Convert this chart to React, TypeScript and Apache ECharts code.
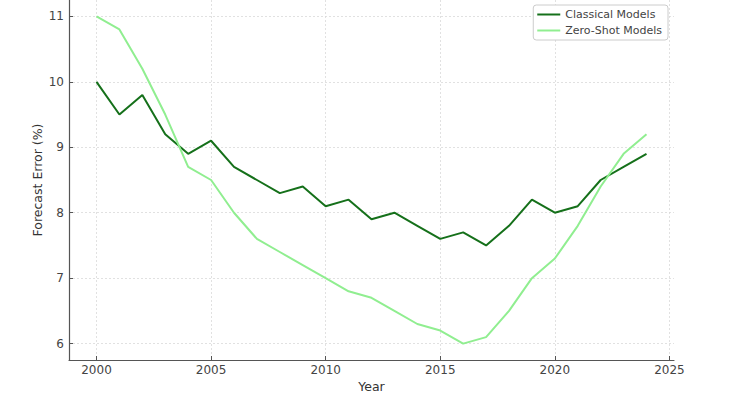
import React, { useEffect, useRef } from "react";
import * as echarts from "echarts";

const years = [2000, 2001, 2002, 2003, 2004, 2005, 2006, 2007, 2008, 2009, 2010, 2011, 2012, 2013, 2014, 2015, 2016, 2017, 2018, 2019, 2020, 2021, 2022, 2023, 2024];
const classical = [10.0, 9.5, 9.8, 9.2, 8.9, 9.1, 8.7, 8.5, 8.3, 8.4, 8.1, 8.2, 7.9, 8.0, 7.8, 7.6, 7.7, 7.5, 7.8, 8.2, 8.0, 8.1, 8.5, 8.7, 8.9];
const zeroShot = [11.0, 10.8, 10.2, 9.5, 8.7, 8.5, 8.0, 7.6, 7.4, 7.2, 7.0, 6.8, 6.7, 6.5, 6.3, 6.2, 6.0, 6.1, 6.5, 7.0, 7.3, 7.8, 8.4, 8.9, 9.2];
const xTicks = [2000, 2005, 2010, 2015, 2020, 2025];
const yTicks = [6, 7, 8, 9, 10, 11];

const FONT = "DejaVu Sans";

export default function App() {
  const ref = useRef<HTMLDivElement>(null);
  useEffect(() => {
    if (!ref.current) return;
    const chart = echarts.init(ref.current, null, { renderer: "svg" });
    const axisCommon = {
      axisLine: { show: true, lineStyle: { color: "#555", width: 1.2 } },
      axisTick: { show: true, inside: true, length: 4, lineStyle: { color: "#555", width: 1 } },
      splitLine: { show: true, lineStyle: { color: "#d9d9d9", type: [2, 2], width: 0.8 } },
      axisLabel: { color: "#444", fontSize: 12, fontFamily: FONT, formatter: (v: number) => String(v) },
      nameTextStyle: { color: "#333", fontSize: 12.5, fontFamily: FONT },
      nameMoveOverlap: false,
    };
    chart.setOption({
      animation: false,
      backgroundColor: "#fff",
      grid: { left: 69, right: 57, top: 0, bottom: 36, containLabel: false, outerBoundsMode: "none" },
      legend: {
        orient: "vertical",
        right: 63,
        top: 5,
        itemWidth: 23,
        itemHeight: 2,
        itemGap: 5,
        icon: "rect",
        padding: [4, 6, 4, 4],
        borderColor: "#cccccc",
        borderWidth: 1,
        borderRadius: 3,
        backgroundColor: "#fff",
        textStyle: { color: "#444", fontSize: 11, fontFamily: FONT },
        data: ["Classical Models", "Zero-Shot Models"],
      },
      xAxis: {
        type: "value",
        min: 1998.8,
        max: 2025.2,
        name: "Year",
        nameLocation: "middle",
        nameGap: 20,
        ...axisCommon,
        axisTick: { ...axisCommon.axisTick, customValues: xTicks },
        axisLabel: { ...axisCommon.axisLabel, customValues: xTicks, margin: 4 },
      },
      yAxis: {
        type: "value",
        min: 5.75,
        max: 11.25,
        name: "Forecast Error (%)",
        nameLocation: "middle",
        nameGap: 25,
        ...axisCommon,
        axisTick: { ...axisCommon.axisTick, customValues: yTicks },
        axisLabel: { ...axisCommon.axisLabel, customValues: yTicks, margin: 5 },
      },
      series: [
        {
          name: "Classical Models",
          type: "line",
          data: years.map((y, i) => [y, classical[i]]),
          showSymbol: false,
          lineStyle: { color: "#15701a", width: 2 },
          itemStyle: { color: "#15701a" },
        },
        {
          name: "Zero-Shot Models",
          type: "line",
          data: years.map((y, i) => [y, zeroShot[i]]),
          showSymbol: false,
          lineStyle: { color: "#90ee90", width: 2 },
          itemStyle: { color: "#90ee90" },
        },
      ],
    });
    return () => chart.dispose();
  }, []);
  return <div ref={ref} style={{ position: "fixed", left: 0, top: 0, width: 731, height: 396 }} />;
}
